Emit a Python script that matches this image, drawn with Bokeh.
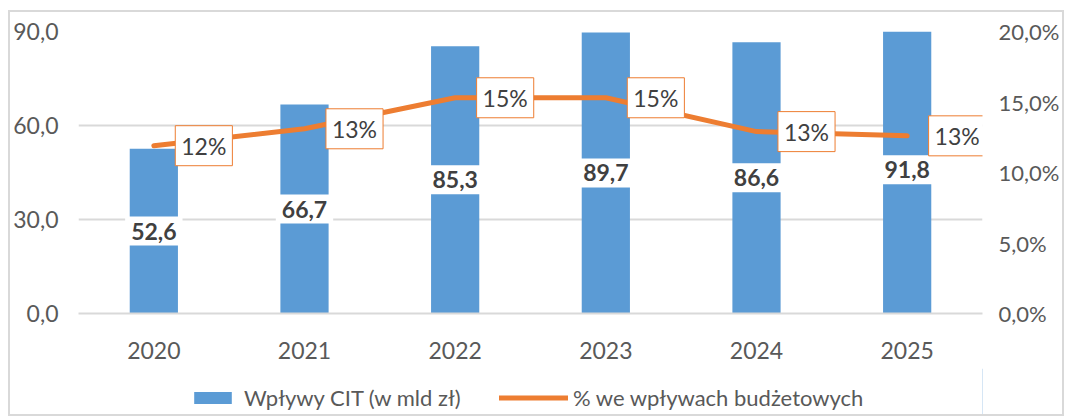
from bokeh.plotting import figure
from bokeh.layouts import column
from bokeh.models import (ColumnDataSource, LinearAxis, Range1d, FixedTicker,
                          CustomJSTickFormatter, Legend, LegendItem, FactorRange)
from bokeh.core.properties import value
from bokeh.embed import file_html
from bokeh.resources import INLINE

years = ["2020", "2021", "2022", "2023", "2024", "2025"]
cit = [52.6, 66.7, 85.3, 89.7, 86.6, 91.8]
cit_labels = ["52,6", "66,7", "85,3", "89,7", "86,6", "91,8"]
share = [11.9, 13.1, 15.3, 15.3, 12.9, 12.6]
share_labels = ["12%", "13%", "15%", "15%", "13%", "13%"]
left_ticks = [0, 30, 60, 90]
right_ticks = [0, 5, 10, 15, 20]
series_names = ["Wpływy CIT (w mld zł)", "% we wpływach budżetowych"]

FONT = "Lato"
BLUE = "#5B9BD5"
ORANGE = "#ED7D31"
GRID = "#d9d9d9"
TICK_COL = "#595959"
LABEL_COL = "#404040"
FS = "23px"

src = ColumnDataSource(dict(year=years, cit=cit, mid=[v / 2 for v in cit],
                            cit_label=cit_labels, share=share, share_label=share_labels))

p = figure(x_range=FactorRange(*years), y_range=Range1d(0, 90),
           width=1052, height=356, output_backend="svg", toolbar_location=None,
           min_border_left=67, min_border_right=80, min_border_top=19, min_border_bottom=55)
p.extra_y_ranges = {"pct": Range1d(0, 20)}
p.outline_line_color = None
p.background_fill_color = "white"
p.border_fill_color = "white"

bars = p.vbar(x="year", top="cit", width=0.32, source=src, fill_color=BLUE, line_color=None)
line = p.line(x="year", y="share", y_range_name="pct", source=src, line_color=ORANGE,
              line_width=5, line_cap="round", line_join="round")

p.text(x="year", y="mid", text="cit_label", source=src, text_align="center",
       text_baseline="middle", text_font=value(FONT), text_font_size=FS,
       text_font_style="bold", text_color=LABEL_COL, background_fill_color="white",
       padding=6)
p.text(x="year", y="share", text="share_label", source=src, y_range_name="pct",
       x_offset=50, text_align="center", text_baseline="middle", text_font=value(FONT),
       text_font_size=FS, text_color=LABEL_COL, background_fill_color="white",
       border_line_color=ORANGE, border_line_width=1, padding=6)

# axes
p.yaxis.ticker = FixedTicker(ticks=left_ticks)
p.yaxis.formatter = CustomJSTickFormatter(code="return tick.toFixed(1).replace('.', ',');")
ra = LinearAxis(y_range_name="pct", ticker=FixedTicker(ticks=right_ticks),
                formatter=CustomJSTickFormatter(code="return tick.toFixed(1).replace('.', ',') + '%';"))
p.add_layout(ra, "right")

for ax in [p.yaxis[0], ra]:
    ax.axis_line_color = None
    ax.major_tick_line_color = None
    ax.minor_tick_line_color = None
    ax.major_label_text_font = FONT
    ax.major_label_text_color = TICK_COL
p.yaxis[0].major_label_standoff = 14
p.yaxis[0].major_label_text_font_size = FS
ra.major_label_standoff = 10
ra.major_label_text_font_size = "22px"

p.xaxis.axis_line_color = GRID
p.xaxis.axis_line_width = 2
p.xaxis.major_tick_line_color = None
p.xaxis.minor_tick_line_color = None
p.xaxis.major_label_standoff = 22
p.xaxis.major_label_text_font = FONT
p.xaxis.major_label_text_font_size = FS
p.xaxis.major_label_text_color = TICK_COL

p.xgrid.grid_line_color = None
p.ygrid.grid_line_color = GRID
p.ygrid.grid_line_width = 2

# legend strip below the chart (its proxy glyphs sit outside the visible range)
q = figure(x_range=Range1d(0, 1), y_range=Range1d(0, 1), width=1052, height=46,
           output_backend="svg", toolbar_location=None, x_axis_type=None, y_axis_type=None,
           min_border_left=67, min_border_right=80, min_border_top=0, min_border_bottom=0)
q.outline_line_color = None
q.grid.grid_line_color = None
q.background_fill_alpha = 0
q.border_fill_alpha = 0
q_bar = q.vbar(x=[5], top=[5], width=0.3, fill_color=BLUE, line_color=None)
q_line = q.line(x=[5, 6], y=[5, 5], line_color=ORANGE, line_width=5, line_cap="round")

leg1 = Legend(items=[LegendItem(label=series_names[0], renderers=[q_bar])],
              location=(111, 3), glyph_width=47, glyph_height=15, label_standoff=8)
leg2 = Legend(items=[LegendItem(label=series_names[1], renderers=[q_line])],
              location=(421, 3), glyph_width=69, glyph_height=15, label_standoff=5)
for lg in [leg1, leg2]:
    lg.padding = 0
    lg.margin = 0
    lg.border_line_color = None
    lg.background_fill_alpha = 0
    lg.label_text_font = FONT
    lg.label_text_font_size = "22px"
    lg.label_text_color = TICK_COL
    q.add_layout(lg)

layout = column(p, q, spacing=0, styles={"border": "2px solid #d9d9d9",
                                         "margin-left": "8px", "margin-top": "10px"})

open("out.html", "w").write(file_html(layout, INLINE))
